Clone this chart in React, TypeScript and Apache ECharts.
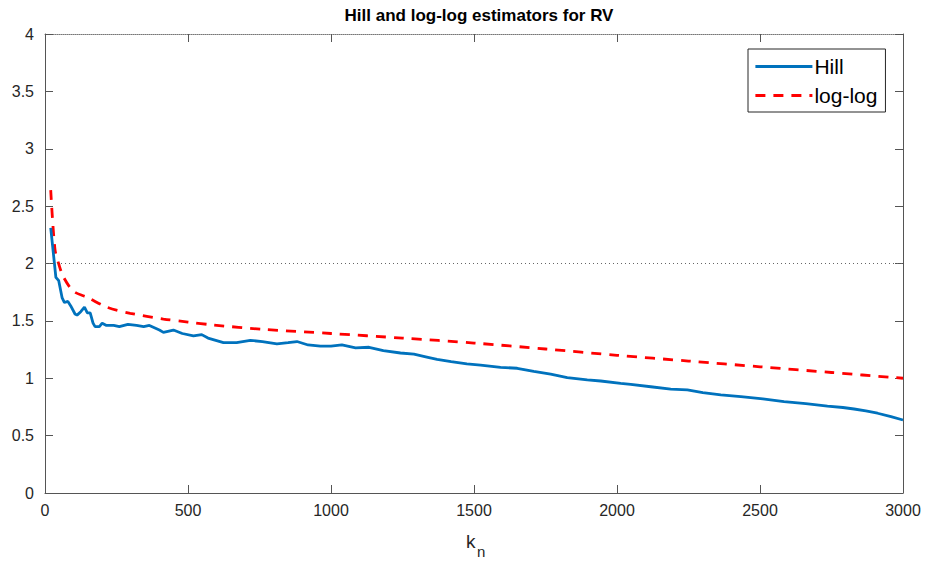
import React, { useEffect, useRef } from "react";
import * as echarts from "echarts";

const hillK = [20, 38, 48, 60, 68, 80, 90, 105, 112, 125, 138, 148, 158, 168, 175, 190, 200, 215, 240, 260, 290, 320, 345, 365, 400, 414, 449, 480, 519, 548, 570, 624, 670, 718, 760, 811, 850, 881, 920, 963, 1000, 1038, 1086, 1133, 1183, 1243, 1290, 1335, 1371, 1420, 1475, 1523, 1593, 1651, 1709, 1768, 1826, 1896, 1943, 2013, 2048, 2118, 2188, 2246, 2300, 2363, 2433, 2510, 2584, 2660, 2736, 2790, 2829, 2870, 2911, 2958, 3000];
const hillV = [2.31, 1.88, 1.85, 1.7, 1.66, 1.67, 1.63, 1.56, 1.55, 1.58, 1.62, 1.57, 1.57, 1.48, 1.45, 1.45, 1.48, 1.46, 1.46, 1.45, 1.47, 1.46, 1.45, 1.46, 1.42, 1.4, 1.42, 1.39, 1.37, 1.38, 1.35, 1.31, 1.31, 1.33, 1.32, 1.3, 1.31, 1.32, 1.29, 1.28, 1.28, 1.29, 1.265, 1.27, 1.24, 1.22, 1.21, 1.185, 1.165, 1.145, 1.125, 1.115, 1.095, 1.087, 1.06, 1.035, 1.005, 0.985, 0.976, 0.955, 0.947, 0.926, 0.905, 0.898, 0.875, 0.856, 0.84, 0.82, 0.797, 0.778, 0.758, 0.745, 0.732, 0.715, 0.695, 0.665, 0.636];

const logK = [20, 35, 50, 64, 99, 152, 216, 298, 414, 500, 589, 764, 1000, 1250, 1500, 1750, 2000, 2250, 2500, 2750, 3000];
const logV = [2.64, 2.12, 1.98, 1.885, 1.76, 1.7, 1.62, 1.566, 1.516, 1.49, 1.464, 1.426, 1.39, 1.35, 1.307, 1.255, 1.2, 1.15, 1.1, 1.05, 1.0];

const xTicks = [0, 500, 1000, 1500, 2000, 2500, 3000];
const yTicks = [0, 0.5, 1, 1.5, 2, 2.5, 3, 3.5, 4];

const FONT = "Liberation Sans, Arial, sans-serif";

export default function App() {
  const ref = useRef<HTMLDivElement>(null);
  useEffect(() => {
    if (!ref.current) return;
    const chart = echarts.init(ref.current, undefined, { renderer: "svg" });
    const axisColor = "#555555";
    const labelColor = "#262626";
    chart.setOption({
      animation: false,
      backgroundColor: "#ffffff",
      textStyle: { fontFamily: FONT },
      title: {
        text: "Hill and log-log estimators for RV",
        left: 474,
        textAlign: "center",
        top: 2,
        textStyle: { fontSize: 17, fontWeight: "bold", color: "#000000", fontFamily: FONT },
      },
      grid: { left: 45, right: 27, top: 34, bottom: 75, containLabel: false },
      legend: {
        orient: "vertical",
        left: 748,
        top: 49,
        width: 139,
        padding: [7, 8, 6, 6],
        itemGap: 8,
        itemWidth: 57,
        itemHeight: 18,
        borderColor: "#262626",
        borderWidth: 1,
        backgroundColor: "#ffffff",
        itemStyle: { opacity: 0 },
        lineStyle: { width: 2.8 },
        textStyle: { fontSize: 21, color: "#000000", fontFamily: FONT, padding: [0, 0, 0, -3] },
        data: ["Hill", "log-log"],
      },
      xAxis: [
        {
          type: "value",
          min: 0,
          max: 3000,
          interval: 500,
          axisLine: { show: true, onZero: false, lineStyle: { color: axisColor, width: 1 } },
          axisTick: { show: true, inside: true, length: 8, lineStyle: { color: axisColor } },
          axisLabel: {
            color: labelColor,
            fontSize: 16,
            margin: 9,
            fontFamily: FONT,
            formatter: (v: number) => (xTicks.includes(v) ? String(v) : ""),
          },
          splitLine: { show: false },
        },
        {
          type: "value",
          position: "top",
          min: 0,
          max: 3000,
          interval: 500,
          axisLine: { show: true, onZero: false, lineStyle: { color: "#777777", width: 1, type: "dotted" } },
          axisTick: { show: true, inside: true, length: 8, lineStyle: { color: axisColor } },
          axisLabel: { show: false },
          splitLine: { show: false },
        },
      ],
      yAxis: [
        {
          type: "value",
          min: 0,
          max: 4,
          interval: 0.5,
          axisLine: { show: true, onZero: false, lineStyle: { color: axisColor, width: 1 } },
          axisTick: { show: true, inside: true, length: 8, lineStyle: { color: axisColor } },
          axisLabel: {
            color: labelColor,
            fontSize: 16,
            margin: 11,
            fontFamily: FONT,
            formatter: (v: number) => (yTicks.includes(v) ? String(v) : ""),
          },
          splitLine: { show: false },
        },
        {
          type: "value",
          position: "right",
          min: 0,
          max: 4,
          interval: 0.5,
          axisLine: { show: true, onZero: false, lineStyle: { color: axisColor, width: 1 } },
          axisTick: { show: true, inside: true, length: 8, lineStyle: { color: axisColor } },
          axisLabel: { show: false },
          splitLine: { show: false },
        },
      ],
      series: [
        {
          name: "Hill",
          type: "line",
          data: hillK.map((k, i) => [k, hillV[i]]),
          showSymbol: false,
          symbol: "none",
          lineStyle: { color: "#0072BD", width: 2.8 },
          itemStyle: { color: "#0072BD" },
          markLine: {
            silent: true,
            symbol: "none",
            label: { show: false },
            lineStyle: { color: "#666666", type: [1, 3], width: 1 },
            data: [{ yAxis: 2 }],
          },
          z: 3,
        },
        {
          name: "log-log",
          type: "line",
          data: logK.map((k, i) => [k, logV[i]]),
          showSymbol: false,
          symbol: "none",
          smooth: 0.3,
          lineStyle: { color: "#FF0000", width: 2.8, type: [10, 8] },
          itemStyle: { color: "#FF0000" },
          z: 2,
        },
      ],
      graphic: [
        {
          type: "text",
          left: 466,
          top: 532,
          style: { text: "k", fontSize: 19, fill: labelColor, fontFamily: FONT },
        },
        {
          type: "text",
          left: 477,
          top: 544,
          style: { text: "n", fontSize: 15, fill: labelColor, fontFamily: FONT },
        },
      ],
    });
    return () => chart.dispose();
  }, []);
  return <div ref={ref} style={{ width: 930, height: 568, margin: -8 }} />;
}
